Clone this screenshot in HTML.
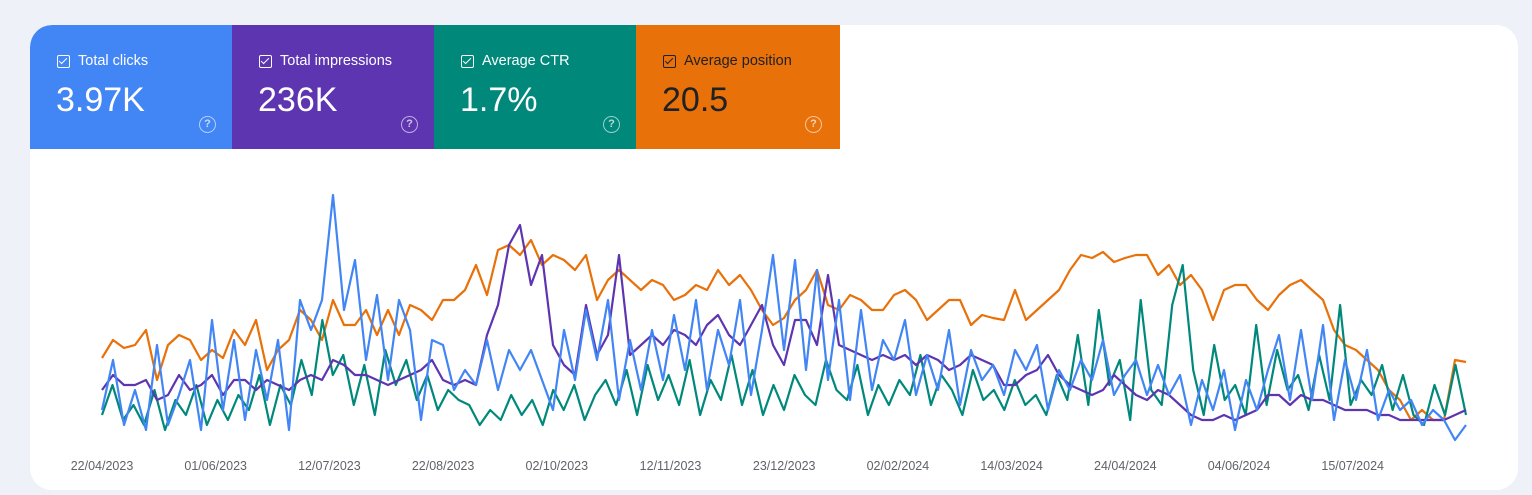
<!DOCTYPE html>
<html><head><meta charset="utf-8">
<style>
html,body{margin:0;padding:0;}
body{width:1532px;height:495px;background:#eef2f8;font-family:"Liberation Sans",Arial,sans-serif;position:relative;overflow:hidden;}
.card{position:absolute;left:30px;top:25px;width:1488px;height:465px;background:#fff;border-radius:22px;overflow:hidden;}
.tile{position:absolute;top:0;height:124px;width:202px;color:#fff;}
.lbl{position:absolute;left:27px;top:28px;font-size:14.5px;display:flex;align-items:center;}
.cb{width:11px;height:11px;border:1.5px solid currentColor;border-radius:2px;margin-right:8px;position:relative;}
.cb:after{content:"";position:absolute;left:3px;top:0px;width:3px;height:7px;border:solid currentColor;border-width:0 1.5px 1.5px 0;transform:rotate(45deg);}
.val{position:absolute;left:26px;top:56px;font-size:34px;}
.help{position:absolute;left:169px;top:91px;width:15px;height:15px;border:1.5px solid rgba(255,255,255,.6);border-radius:50%;font-size:11px;line-height:15px;text-align:center;color:rgba(255,255,255,.7);font-weight:bold;}
svg{position:absolute;left:0;top:0;}
</style></head>
<body>
<div class="card">
 <div class="tile" style="left:0;background:#4285f4;border-top-left-radius:22px">
  <div class="lbl"><span class="cb"></span>Total clicks</div>
  <div class="val">3.97K</div><div class="help">?</div></div>
 <div class="tile" style="left:202px;background:#5e35b1">
  <div class="lbl"><span class="cb"></span>Total impressions</div>
  <div class="val">236K</div><div class="help">?</div></div>
 <div class="tile" style="left:404px;background:#00897b">
  <div class="lbl"><span class="cb"></span>Average CTR</div>
  <div class="val">1.7%</div><div class="help">?</div></div>
 <div class="tile" style="left:606px;width:204px;background:#e8710a;color:#202124">
  <div class="lbl"><span class="cb"></span>Average position</div>
  <div class="val">20.5</div><div class="help">?</div></div>
</div>
<svg id="chart" width="1532" height="495"></svg>
<script>
const dateLabels=["22/04/2023","01/06/2023","12/07/2023","22/08/2023","02/10/2023","12/11/2023","23/12/2023","02/02/2024","14/03/2024","24/04/2024","04/06/2024","15/07/2024"];
const positionValues=[87,105,97,100,115,65,100,110,105,85,95,87,115,100,125,75,95,105,135,125,105,145,120,120,135,110,135,110,140,135,125,145,145,155,180,150,195,200,190,205,180,190,185,175,190,145,165,175,165,155,165,160,145,150,160,155,175,160,170,155,135,120,127,145,155,175,140,135,150,145,135,135,150,155,145,125,135,145,145,120,130,127,125,155,125,135,145,155,175,190,187,193,183,187,190,190,170,180,160,170,155,125,155,160,160,145,135,150,160,165,155,145,115,100,95,85,75,55,45,25,35,25,25,85,83];
const impressionValues=[55,70,60,60,65,45,50,70,55,60,70,50,65,65,55,65,60,55,65,70,65,85,80,70,70,65,60,65,70,75,85,65,60,65,60,110,140,200,220,160,190,100,80,70,140,90,110,190,90,100,110,100,115,110,100,120,130,110,100,120,140,100,80,125,125,100,170,100,95,90,85,90,85,90,80,90,85,75,80,90,85,80,60,60,70,75,90,70,60,55,50,55,70,60,50,45,55,50,40,30,25,25,30,25,30,35,50,50,40,50,45,45,40,35,35,35,30,30,25,25,25,25,25,30,35];
const ctrValues=[30,60,25,40,20,55,15,45,30,60,20,45,25,50,35,70,20,60,40,85,50,125,70,90,40,80,30,95,60,85,45,70,35,55,45,40,20,35,25,50,30,45,20,55,35,60,25,50,65,40,75,30,80,45,70,40,85,30,65,45,90,40,75,30,60,35,70,50,40,85,55,45,80,30,60,40,65,50,90,40,70,55,30,75,45,55,35,65,40,50,30,70,45,110,40,135,60,85,25,145,55,40,140,180,75,30,100,45,60,30,120,40,95,55,70,35,90,45,140,40,65,50,80,35,70,30,20,60,30,80,30];
const clickValues=[35,85,20,55,15,100,20,50,85,15,125,35,105,25,95,45,105,15,145,115,145,250,135,185,85,150,65,145,115,25,105,100,55,75,60,105,55,95,75,95,65,35,115,65,135,85,145,45,105,55,115,65,130,75,145,55,115,80,145,50,115,190,95,185,75,175,65,145,45,135,55,105,85,125,50,90,55,115,40,95,65,80,50,95,75,100,35,75,55,85,65,105,50,70,85,50,80,50,70,20,65,35,75,15,65,35,75,110,45,115,45,120,25,85,45,95,25,55,35,45,20,35,25,5,20];
const svg=document.getElementById('chart');
const NS='http://www.w3.org/2000/svg';
const x0=102,x1=1466;
function yScale(v){return 445-v;}
function xScale(i,n){return x0+i*(x1-x0)/(n-1);}
function drawSeries(vals,color,name){
  const p=document.createElementNS(NS,'polyline');
  p.setAttribute('points',vals.map((v,i)=>xScale(i,vals.length).toFixed(1)+','+yScale(v).toFixed(1)).join(' '));
  p.setAttribute('fill','none');p.setAttribute('stroke',color);p.setAttribute('stroke-width','2.2');p.setAttribute('stroke-linejoin','round');
  
  
  svg.appendChild(p);
}
drawSeries(positionValues,'#e8710a','average-position-line');
drawSeries(ctrValues,'#00897b','average-ctr-line');
drawSeries(impressionValues,'#5e35b1','total-impressions-line');
drawSeries(clickValues,'#4285f4','total-clicks-line');
dateLabels.forEach((d,i)=>{
  const t=document.createElementNS(NS,'text');
  t.setAttribute('x',102+i*113.7);t.setAttribute('y',470);t.setAttribute('text-anchor','middle');
  t.setAttribute('font-size','12.5');t.setAttribute('fill','#5f6368');t.setAttribute('font-family','Liberation Sans, Arial, sans-serif');
  t.textContent=d;
  
  
  svg.appendChild(t);
});
</script>
</body></html>
